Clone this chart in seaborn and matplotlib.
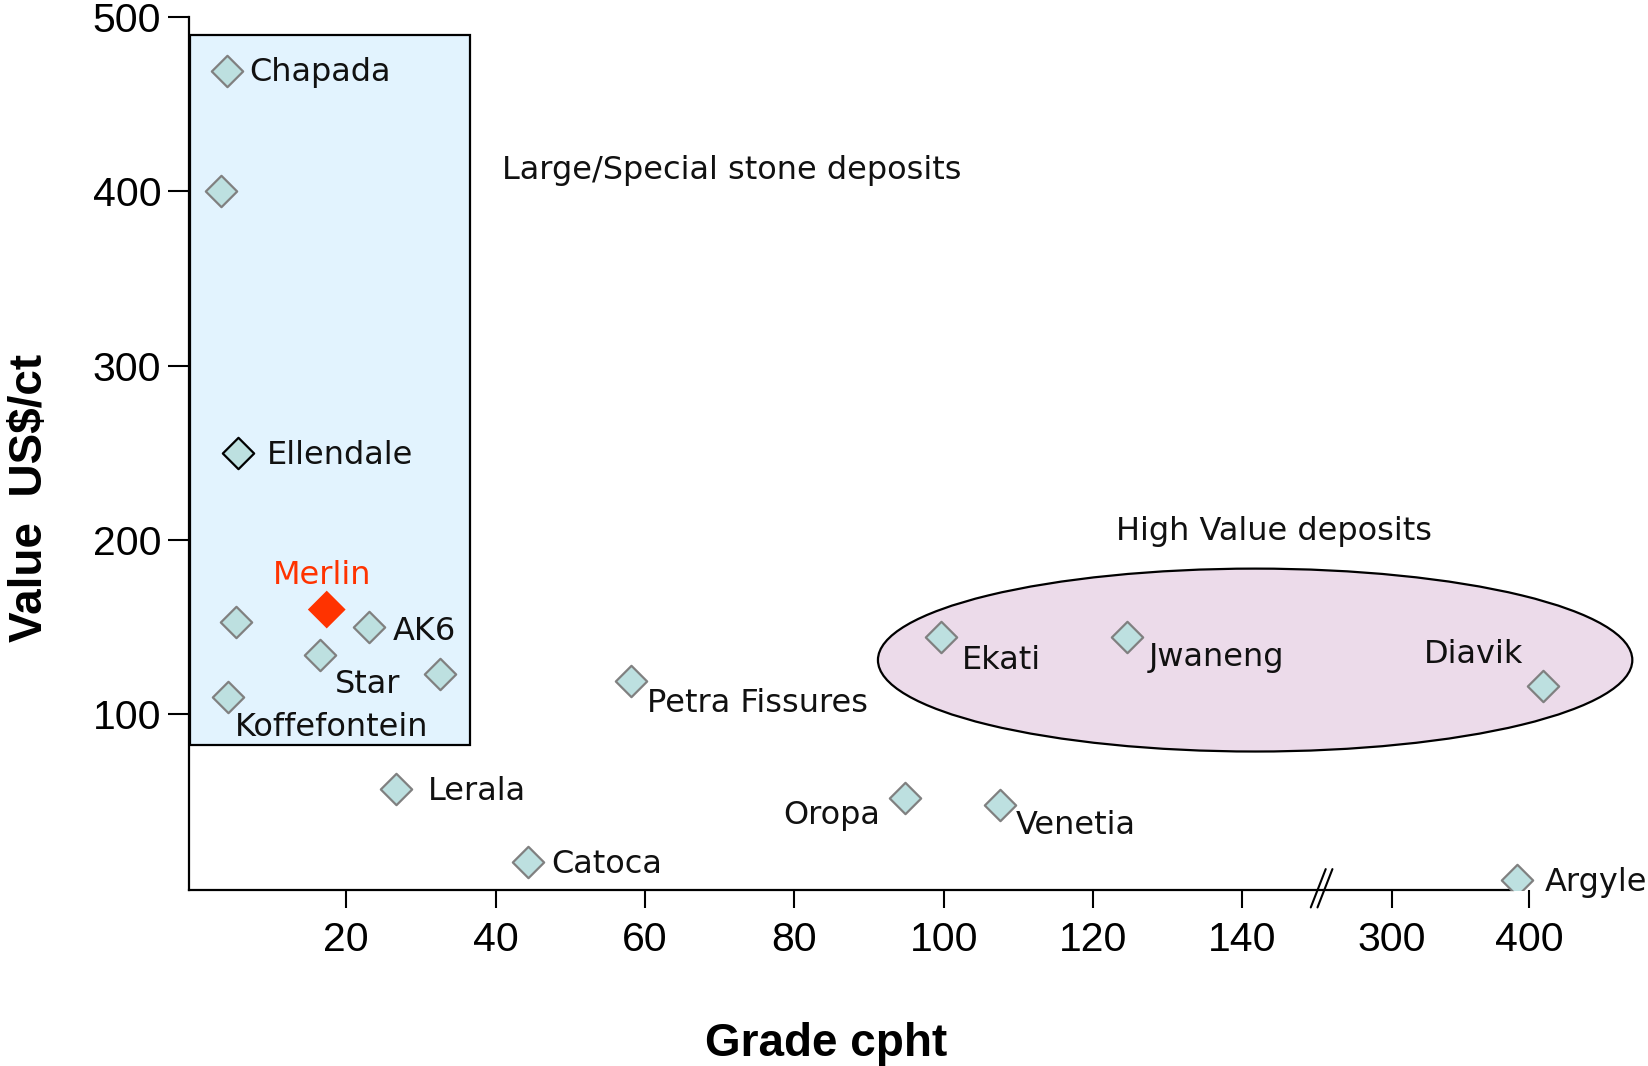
# Diamond deposits: value (US$/ct) against grade (cpht)
# broken x axis: linear up to 150, then a compressed 300-400 segment

import pandas as pd
import matplotlib.pyplot as plt
from matplotlib.patches import Rectangle, Ellipse
import seaborn as sns

# ========= Data =========
deposit = ["Chapada", "", "Ellendale", "", "Merlin", "AK6", "Star", "", "Koffefontein",
           "Lerala", "Petra Fissures", "Catoca", "Oropa", "Venetia", "Ekati", "Jwaneng",
           "Diavik", "Argyle"]
grade_cpht = [4.1, 3.3, 5.5, 5.3, 17.4, 23.1, 16.5, 32.5, 4.2,
              26.7, 58.2, 44.4, 94.8, 107.6, 99.6, 124.5, 410, 391]
value_usd_ct = [469, 400, 250, 153, 160, 150, 134, 123, 110,
                57, 119, 15, 52, 48, 144, 144, 116, 5]
marker_kind = ["std", "std", "outlined", "std", "merlin", "std", "std", "std", "std",
               "std", "std", "std", "std", "std", "std", "std", "std", "std"]

x_ticks_low = [20, 40, 60, 80, 100, 120, 140]
x_ticks_high = [300, 400]
y_ticks = [100, 200, 300, 400, 500]

# ========= Broken axis mapping =========
BREAK_AT = 150.6
HIGH_START = 300
HIGH_POS = 160
HIGH_SCALE = 0.184


def to_axis(g):
    if g <= 150:
        return g
    return HIGH_POS + (g - HIGH_START) * HIGH_SCALE


df = pd.DataFrame({"deposit": deposit, "grade": grade_cpht,
                   "value": value_usd_ct, "kind": marker_kind})
df["xpos"] = df["grade"].map(to_axis)

# label placement (offset in points, alignment)
label_layout = {
    "Chapada": (16, -1, "left"),
    "Ellendale": (21, -2, "left"),
    "Merlin": (-3, 24.5, "center"),
    "AK6": (17, -3, "left"),
    "Star": (11, -21, "left"),
    "Koffefontein": (4.5, -22, "left"),
    "Lerala": (23, -2, "left"),
    "Petra Fissures": (11, -16, "left"),
    "Catoca": (16.5, -2, "left"),
    "Oropa": (-18, -12.5, "right"),
    "Venetia": (11, -15, "left"),
    "Ekati": (15.5, -16.5, "left"),
    "Jwaneng": (15.5, -14.5, "left"),
    "Diavik": (-14, 23, "right"),
    "Argyle": (20, -2, "left"),
}
LABEL_SIZE = 23

# ========= Plot =========
sns.set_theme(style="white")
plt.rcParams["font.family"] = ["Liberation Sans", "DejaVu Sans"]

fig = plt.figure(figsize=(16.48, 10.66), dpi=100)
ax = fig.add_axes([189 / 1648, 1 - 890 / 1066, 1 - 189 / 1648, (890 - 17.3) / 1066])

# shaded groupings
ax.add_patch(Rectangle((-0.9, 82), 37.5, 408, facecolor="#e2f3fe",
                       edgecolor="black", linewidth=1.6, zorder=1))
ax.add_patch(Ellipse((141.7, 131), 101, 105, facecolor="#ecdbea",
                     edgecolor="black", linewidth=1.6, zorder=1))

std = df[df["kind"] == "std"]
sns.scatterplot(data=std, x="xpos", y="value", marker="D", s=255,
                color="#bde0e0", edgecolor="#808080", linewidth=1.6, ax=ax, zorder=3)
sns.scatterplot(data=df[df["kind"] == "outlined"], x="xpos", y="value", marker="D", s=255,
                color="#bde0e0", edgecolor="black", linewidth=1.6, ax=ax, zorder=3)
sns.scatterplot(data=df[df["kind"] == "merlin"], x="xpos", y="value", marker="D", s=370,
                color="#ff3300", edgecolor="none", ax=ax, zorder=4)

for _, row in df.iterrows():
    if row["deposit"] == "":
        continue
    dx, dy, ha = label_layout[row["deposit"]]
    ax.annotate(row["deposit"], (row["xpos"], row["value"]), xytext=(dx, dy),
                textcoords="offset points", ha=ha, va="center", fontsize=LABEL_SIZE,
                family="DejaVu Sans",
                color="#ff3300" if row["deposit"] == "Merlin" else "#111111", zorder=5)

ax.text(40.8, 412, "Large/Special stone deposits", fontsize=LABEL_SIZE, family="DejaVu Sans",
        ha="left", va="center", color="#111111")
ax.text(123.1, 205, "High Value deposits", fontsize=LABEL_SIZE, family="DejaVu Sans",
        ha="left", va="center", color="#111111")

# axes
ax.set_xlim(-1.04, 194.3)
ax.set_ylim(-1.0, 500)
ax.set_facecolor("none")
for side in ["top", "right"]:
    ax.spines[side].set_visible(False)
ax.spines["left"].set_linewidth(1.6)
ax.spines["bottom"].set_linewidth(1.6)
ax.spines["left"].set_color("black")
ax.spines["bottom"].set_color("black")
ax.spines["bottom"].set_bounds(-1.04, 176.2)

xt = x_ticks_low + [to_axis(v) for v in x_ticks_high]
ax.set_xticks(xt)
ax.set_xticklabels([str(v) for v in x_ticks_low + x_ticks_high])
ax.get_xaxis().get_major_ticks()[-1].tick1line.set_visible(False)
ax.set_yticks(y_ticks)
ax.set_yticklabels([str(v) for v in y_ticks])
ax.tick_params(axis="x", direction="out", length=13, width=1.5, pad=9,
               labelsize=29.5, colors="black", bottom=True)
ax.tick_params(axis="y", direction="out", length=15, width=1.5, pad=5,
               labelsize=29.5, colors="black", left=True)

# axis break marks
for off in (-0.45, 0.45):
    ax.plot([BREAK_AT + off - 1.0, BREAK_AT + off + 1.0], [-11, 11], color="black",
            linewidth=1.5, clip_on=False, zorder=6)

ax.set_xlabel("Grade cpht", fontsize=33, fontweight="bold", color="black")
ax.set_ylabel("Value  US$/ct", fontsize=33, fontweight="bold", color="black")
ax.xaxis.set_label_coords(0.437, -0.177)
ax.xaxis.label.set_va("center")
ax.yaxis.set_label_coords(-0.109, 0.4497)
ax.yaxis.label.set_va("center")

fig.savefig("out.png", dpi=100)
